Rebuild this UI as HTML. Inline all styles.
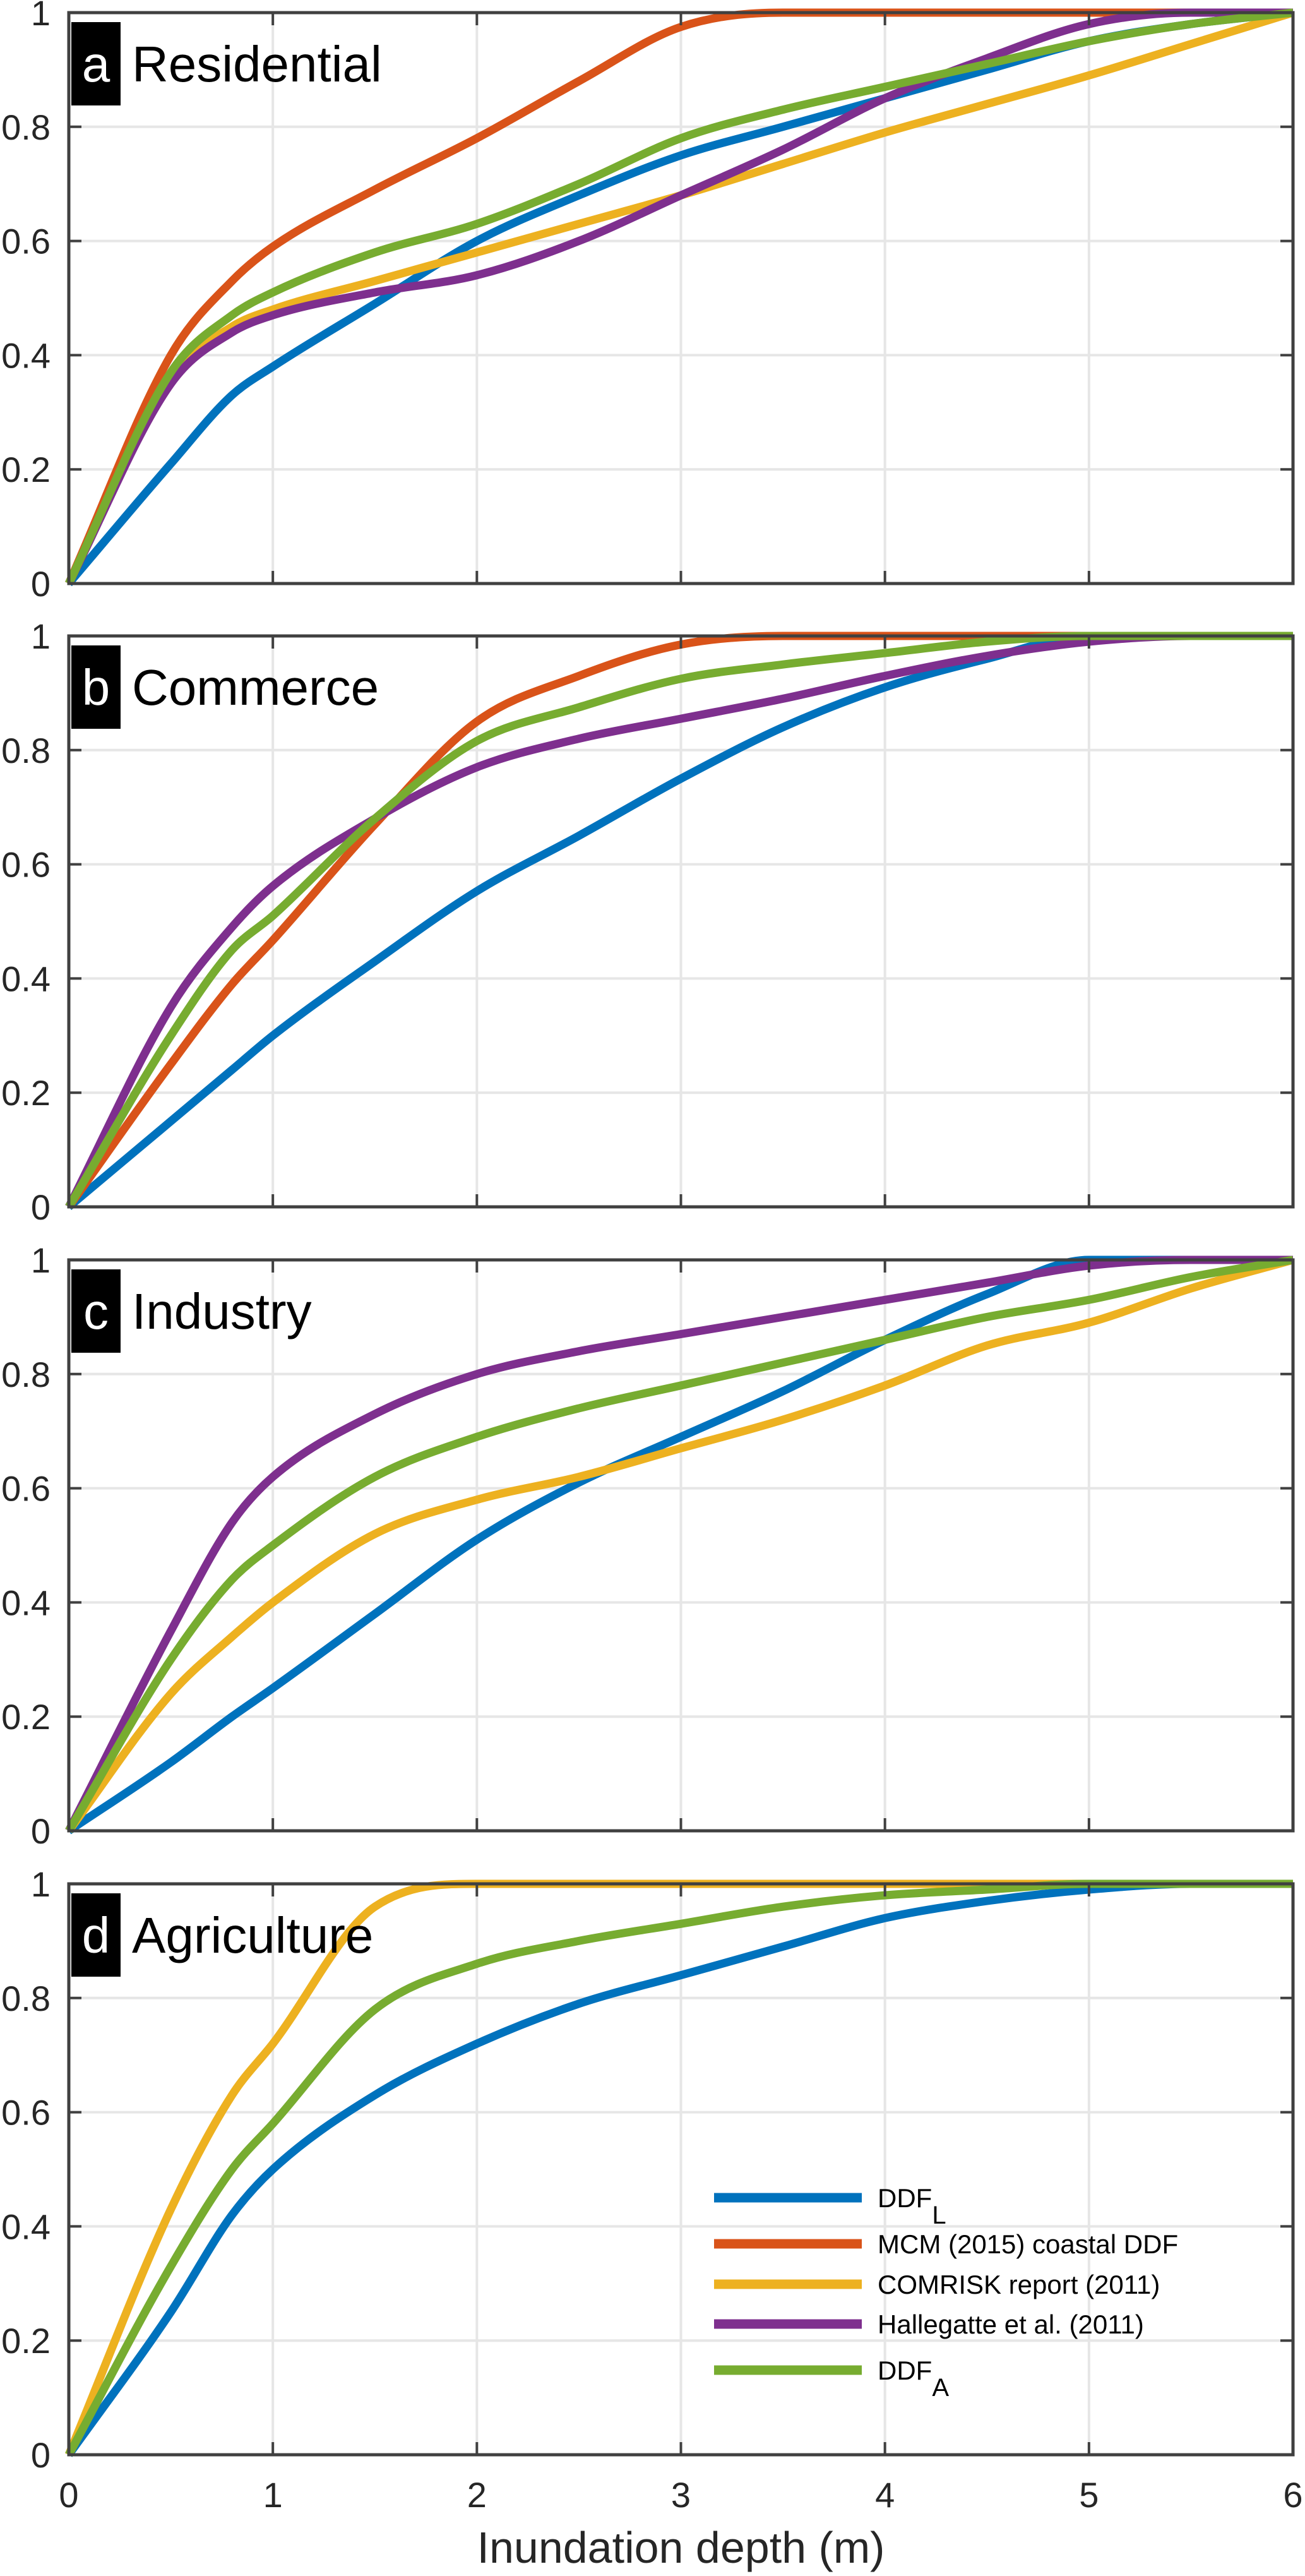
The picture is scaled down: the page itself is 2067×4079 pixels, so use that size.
<!DOCTYPE html>
<html><head><meta charset="utf-8"><style>
html,body{margin:0;padding:0;background:#fff;}
svg{display:block;font-family:"Liberation Sans",sans-serif;}
</style></head><body>
<svg id="chart" width="2067" height="4079" viewBox="0 0 2067 4079" xmlns="http://www.w3.org/2000/svg"></svg>
<script>
const xTicks=[0,1,2,3,4,5,6];
const yTicks=[0,0.2,0.4,0.6,0.8,1];
const yTickLabels=["0","0.2","0.4","0.6","0.8","1"];
const panelLetters=["a","b","c","d"];
const panelTitles=["Residential","Commerce","Industry","Agriculture"];
const seriesNames=["DDF_L","MCM (2015) coastal DDF","COMRISK report (2011)","Hallegatte et al. (2011)","DDF_A"];
const seriesColors=["#0072BD","#D95319","#EDB120","#7E2F8E","#77AC30"];
const depths=[0,0.5,0.8,1,1.5,2,2.5,3,3.5,4,4.5,5,5.5,6];
// panel a residential
const resL=[0,0.21,0.33,0.38,0.49,0.6,0.68,0.75,0.8,0.85,0.9,0.95,0.98,1];
const resM=[0,0.4,0.53,0.59,0.69,0.78,0.88,0.975,1,1,1,1,1,1];
const resC=[0,0.36,0.45,0.48,0.53,0.58,0.63,0.68,0.735,0.79,0.84,0.89,0.945,1];
const resH=[0,0.35,0.44,0.47,0.51,0.54,0.6,0.68,0.76,0.85,0.92,0.98,1,1];
const resA=[0,0.37,0.47,0.51,0.58,0.63,0.7,0.78,0.83,0.87,0.91,0.95,0.98,1];
// panel b commerce
const comL=[0,0.15,0.24,0.3,0.43,0.553,0.65,0.75,0.84,0.91,0.96,1,1,1];
const comM=[0,0.25,0.39,0.467,0.67,0.85,0.93,0.985,1,1,1,1,1,1];
const comH=[0,0.35,0.49,0.562,0.68,0.77,0.82,0.855,0.89,0.93,0.965,0.99,1,1];
const comA=[0,0.3,0.45,0.51,0.68,0.816,0.875,0.925,0.95,0.97,0.99,1,1,1];
// panel c industry
const indL=[0,0.12,0.2,0.25,0.38,0.51,0.61,0.69,0.77,0.86,0.94,1,1,1];
const indC=[0,0.24,0.34,0.4,0.52,0.58,0.62,0.67,0.72,0.78,0.85,0.89,0.95,1];
const indH=[0,0.35,0.54,0.62,0.73,0.8,0.84,0.87,0.9,0.93,0.96,0.99,1,1];
const indA=[0,0.3,0.44,0.5,0.62,0.69,0.74,0.78,0.82,0.86,0.9,0.93,0.97,1];
// panel d agriculture
const agrL=[0,0.25,0.42,0.5,0.63,0.72,0.79,0.84,0.89,0.94,0.97,0.99,1,1];
const agrC=[0,0.43,0.63,0.72,0.96,1,1,1,1,1,1,1,1,1];
const agrA=[0,0.33,0.5,0.58,0.78,0.86,0.9,0.93,0.96,0.98,0.99,1,1,1];
const panelSeries=[
 [resL,resM,resC,resH,resA],
 [comL,comM,null,comH,comA],
 [indL,null,indC,indH,indA],
 [agrL,null,agrC,null,agrA]
];

const NS="http://www.w3.org/2000/svg";
const svg=document.getElementById('chart');
function el(tag,attrs,parent){const e=document.createElementNS(NS,tag);for(const k in attrs)e.setAttribute(k,attrs[k]);(parent||svg).appendChild(e);return e;}
const X0=109,X1=2048,H=904;
const tops=[20,1007,1995,2983];
const xs=v=>X0+(v-xTicks[0])/(xTicks[xTicks.length-1]-xTicks[0])*(X1-X0);

function monoPath(px,py){
  const n=px.length,d=[],m=new Array(n);
  for(let i=0;i<n-1;i++)d.push((py[i+1]-py[i])/(px[i+1]-px[i]));
  m[0]=d[0];m[n-1]=d[n-2];
  for(let i=1;i<n-1;i++){m[i]=(d[i-1]*d[i]<=0)?0:(d[i-1]+d[i])/2;}
  for(let i=0;i<n-1;i++){
    if(d[i]===0){m[i]=0;m[i+1]=0;continue;}
    const a=m[i]/d[i],b=m[i+1]/d[i],s=a*a+b*b;
    if(s>9){const t=3/Math.sqrt(s);m[i]=t*a*d[i];m[i+1]=t*b*d[i];}
  }
  let p='M'+px[0].toFixed(1)+','+py[0].toFixed(1);
  for(let i=0;i<n-1;i++){
    const h=(px[i+1]-px[i])/3;
    p+=' C'+(px[i]+h).toFixed(1)+','+(py[i]+m[i]*h).toFixed(1)+' '+(px[i+1]-h).toFixed(1)+','+(py[i+1]-m[i+1]*h).toFixed(1)+' '+px[i+1].toFixed(1)+','+py[i+1].toFixed(1);
  }
  return p;
}

tops.forEach((top,p)=>{
  const ys=v=>top+H-v*H;
  const g=el('g',{});
  
  
  xTicks.forEach(t=>{if(t>xTicks[0]&&t<xTicks[xTicks.length-1]){const l=el('line',{x1:xs(t),x2:xs(t),y1:top,y2:top+H,stroke:'#e6e6e6','stroke-width':4},g);}});
  yTicks.forEach(t=>{if(t>0&&t<1){const l=el('line',{x1:X0,x2:X1,y1:ys(t),y2:ys(t),stroke:'#e6e6e6','stroke-width':4},g);}});
  panelSeries[p].forEach((vals,si)=>{
    if(!vals)return;
    const px=depths.map(xs),py=vals.map(ys);
    const pl=el('path',{d:monoPath(px,py),fill:'none',stroke:seriesColors[si],'stroke-width':13,'stroke-linejoin':'round'},g);
    
    
  });
  const bx=el('rect',{x:X0,y:top,width:X1-X0,height:H,fill:'none',stroke:'#404040','stroke-width':5},g);
  
  
  xTicks.forEach(t=>{
    el('line',{x1:xs(t),x2:xs(t),y1:top+H,y2:top+H-20,stroke:'#404040','stroke-width':4},g);
    el('line',{x1:xs(t),x2:xs(t),y1:top,y2:top+20,stroke:'#404040','stroke-width':4},g);
  });
  yTicks.forEach((t,i)=>{
    el('line',{x1:X0,x2:X0+20,y1:ys(t),y2:ys(t),stroke:'#404040','stroke-width':4},g);
    el('line',{x1:X1,x2:X1-20,y1:ys(t),y2:ys(t),stroke:'#404040','stroke-width':4},g);
    const tx=el('text',{x:80,y:ys(t)+20,'text-anchor':'end','font-size':56,fill:'#262626'},g);
    tx.textContent=yTickLabels[i];
    
    
  });
  const box=el('rect',{x:113,y:top+15,width:78,height:132,fill:'#000'},g);
  
  
  const lt=el('text',{x:152,y:top+109,'text-anchor':'middle','font-size':80,fill:'#fff'},g);
  lt.textContent=panelLetters[p];
  
  
  const tt=el('text',{x:209,y:top+109,'font-size':80,fill:'#000'},g);
  tt.textContent=panelTitles[p];
  
  
});

xTicks.forEach(t=>{
  const tx=el('text',{x:xs(t),y:3970,'text-anchor':'middle','font-size':56,fill:'#262626'});
  tx.textContent=String(t);
  
  
});
const xt=el('text',{x:(X0+X1)/2,y:4058,'text-anchor':'middle','font-size':70,fill:'#262626'});
xt.textContent='Inundation depth (m)';



const legRows=[3480,3553,3617,3680,3753];
const lg=el('g',{});


seriesNames.forEach((n,i)=>{
  const y=legRows[i];
  const ln=el('line',{x1:1131,x2:1365,y1:y,y2:y,stroke:seriesColors[i],'stroke-width':15},lg);
  
  
  const t=el('text',{x:1390,y:y+15,'font-size':42,fill:'#000'},lg);
  
  
  if(n.startsWith('DDF_')){
    t.appendChild(document.createTextNode('DDF'));
    const s=el('tspan',{dy:26,'font-size':40},t);
    s.textContent=n.slice(4);
  } else {
    t.textContent=(i===1?' ':'')+n;
  }
});
</script>
</body></html>
